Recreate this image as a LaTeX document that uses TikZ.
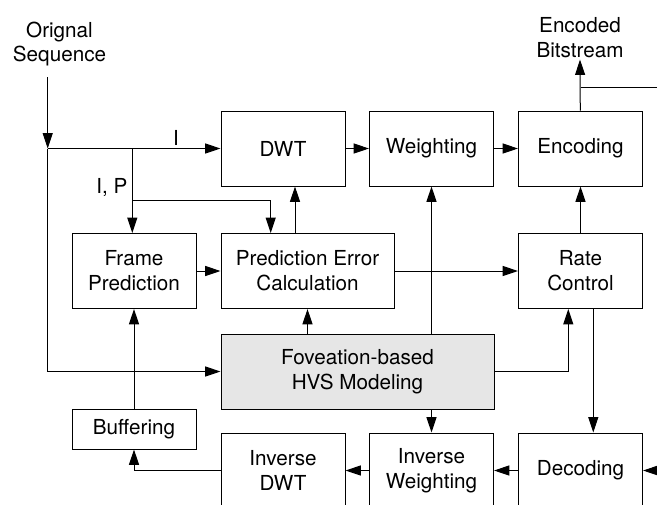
\documentclass[tikz,border=0pt]{standalone}
\usepackage{fontspec}
\setmainfont{TeX Gyre Heros}
\usetikzlibrary{arrows.meta}

\tikzset{every picture/.style={line width=0.75pt}}
\tikzset{
  blk/.style={draw, rectangle, minimum width=93pt, minimum height=56.25pt, align=center, inner sep=0pt, font=\fontsize{15.5}{18.6}\selectfont},
  lbl/.style={align=center, inner sep=0.75pt, font=\fontsize{15.5}{18.6}\selectfont},
  arr/.style={-{Triangle[length=11.5pt,width=7.5pt]}}
}

\begin{document}
\begin{tikzpicture}[x=0.75pt,y=0.75pt,yscale=-1]
\useasboundingbox (0,0) rectangle (657,504);
			% boxes
			\node [blk] (dwt) at (283,148.5) {DWT};
			\node [blk] (wt) at (431.5,148.5) {Weighting};
			\node [blk] (enc) at (580.5,148.5) {Encoding};
			\node [blk] (fp) at (134,271) {Frame\\Prediction};
			\node [blk, minimum width=129.75pt] (pec) at (307.5,271) {Prediction Error\\Calculation};
			\node [blk] (rate) at (580.5,271) {Rate\\Control};
			\node [blk, fill={rgb, 255:red, 230; green, 230; blue, 230}, minimum width=204.75pt] (hvs) at (357.5,371.5) {Foveation-based\\HVS Modeling};
			\node [blk, minimum height=30pt] (buf) at (134,429) {Buffering};
			\node [blk] (idwt) at (283,470.5) {Inverse\\DWT};
			\node [blk] (iw) at (431.5,470.5) {Inverse\\Weighting};
			\node [blk] (dec) at (580.5,470.5) {Decoding};
			% outside texts
			\node [lbl] (seq) at (59.5,44) {Orignal\\Sequence};
			\node [lbl] (bits) at (580,38) {Encoded\\Bitstream};
			\node [lbl, anchor=south] (ilbl) at (176,147) {I};
			\node [lbl, anchor=east] (iplbl) at (129,187) {I, P};
			% helper points
			\coordinate (seqtop) at (47.7,77);
			\coordinate (junc) at (47.7,148.5);
			\coordinate (ipx) at (132.3,200.7);
			\coordinate (pecin) at (270.7,200.7);
			\coordinate (dwtin) at (295,0);
			\coordinate (rcx) at (568.3,0);
			\coordinate (rdx) at (593.3,0);
			\coordinate (outR) at (660,87);
			\coordinate (inR) at (660,470.5);
			% connectors
			\draw [arr] (seqtop) -- (junc);
			\draw [arr] (junc) -- (dwt.west);
			\draw [arr] (junc) |- (hvs.west);
			\draw [arr] (ipx |- junc) -- (ipx |- fp.north);
			\draw [arr] (ipx) -| (pecin |- pec.north);
			\draw [arr] (dwtin |- pec.north) -- (dwtin |- dwt.south);
			\draw [arr] (dwt) -- (wt);
			\draw [arr] (wt) -- (enc);
			\draw [arr] (enc) -- (bits.south);
			\draw (enc.north |- outR) -- (outR);
			\draw [arr] (fp) -- (pec);
			\draw [arr] (pec) -- (rate);
			\draw [arr] (rate) -- (enc);
			\draw [arr] (pec.south |- hvs.north) -- (pec.south);
			\draw [arr] (wt.south |- hvs.north) -- (wt.south);
			\draw [arr] (iw.north |- hvs.south) -- (iw.north);
			\draw [arr] (hvs.east) -| (rcx |- rate.south);
			\draw [arr] (rdx |- rate.south) -- (rdx |- dec.north);
			\draw [arr] (inR) -- (dec.east);
			\draw [arr] (dec) -- (iw);
			\draw [arr] (iw) -- (idwt);
			\draw [arr] (idwt.west) -| (buf.south);
			\draw [arr] (buf) -- (fp);
\end{tikzpicture}
\end{document}
